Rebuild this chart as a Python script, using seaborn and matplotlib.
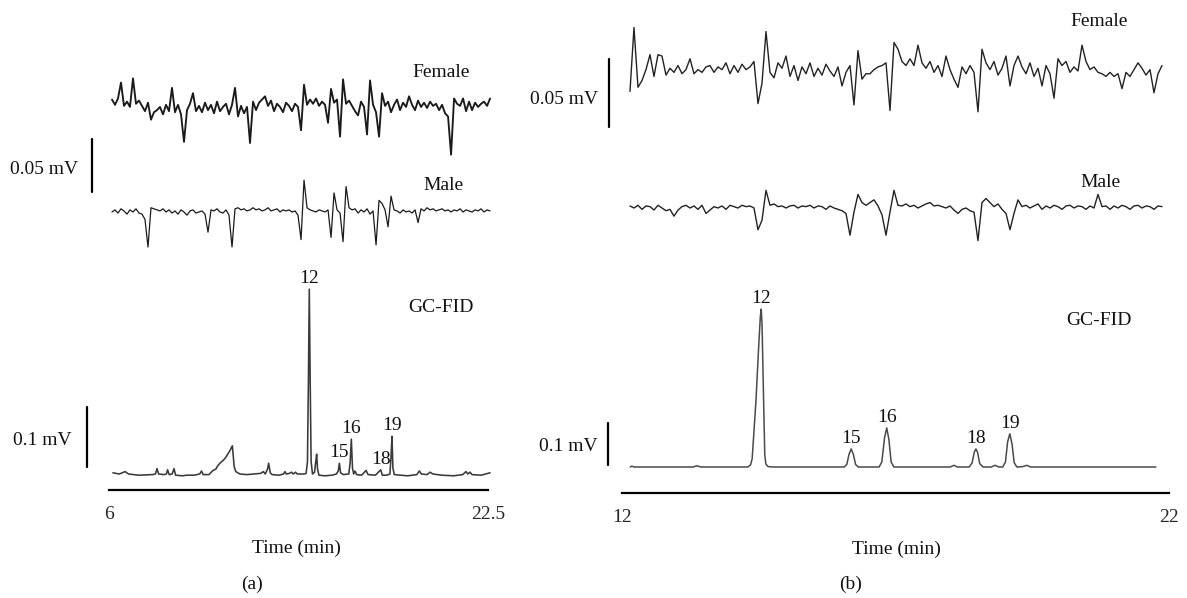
import numpy as np
import pandas as pd
import matplotlib
matplotlib.use("Agg")
import matplotlib.pyplot as plt
import seaborn as sns

# ---------------- data (a) : 6 - 22.5 min ----------------
a_ead_time = np.linspace(6.13, 22.59, 127)          # sample times (min)
a_female_uv = [8, 3, 9, 24, 2, 6, 1, 28, 4, 7,
               2, -3, 5, -11, -4, -2, 1, -6, 3, -3,
               19, -4, 3, -6, -32, -2, 4, 14, -3, 2,
               -4, 5, -2, 3, -5, 6, -3, 1, 4, -6,
               3, 19, -8, 2, -5, 1, -33, 6, -2, 5,
               8, 11, 2, 7, -3, 4, 1, -4, 5, 2,
               -3, 4, 1, -21, 22, 3, 8, 4, 9, 2,
               6, 3, -14, 18, 5, 8, -27, 27, 4, 7,
               2, -3, -7, 6, 1, -25, 26, 3, -4, -27,
               14, 2, 6, -4, 3, 8, -2, 5, 1, 11,
               3, -2, 7, 1, 5, 0, 6, 2, 4, -2,
               3, -5, -8, -44, 9, 4, 2, 9, -3, 6,
               -2, 5, 1, 4, 6, 2, 9]
a_male_uv = [0, 2, -1, 3, 1, -2, 2, 0, 3, -1,
             -2, -7, -33, 4, 3, 2, 1, 3, 0, 2,
             -1, 1, -2, 2, 0, -3, 1, 2, -1, 0,
             1, -2, -19, 2, 1, 3, 0, -1, 2, -3,
             -33, 3, 4, 2, 3, 1, 2, 4, 2, 3,
             1, 2, 4, 1, 2, 3, 0, 2, 1, 2,
             0, 1, -3, -26, 30, 4, 2, 1, 0, 2,
             1, 0, 2, -24, 18, 2, -1, -28, 24, 4,
             2, 3, -1, 2, 0, 3, -2, 1, -31, 11,
             8, 2, -14, 15, 2, 1, -1, 2, 0, 1,
             -1, 2, -10, 3, 1, 4, 2, 3, 1, 2,
             3, 1, 2, 0, 2, 1, 3, 0, 2, 1,
             0, 2, 1, 3, 0, 2, 1]
a_fid_time = [6.17, 6.45, 6.70, 6.85, 7.3, 7.9, 8.02, 8.09, 8.16, 8.40, 8.50, 8.55, 8.62,
              8.75, 8.83, 8.90, 9.2, 9.38, 9.7, 9.95, 10.03, 10.10, 10.35, 10.53, 10.65,
              10.72, 10.83, 10.95, 11.05, 11.12, 11.25, 11.37, 11.45, 11.52, 11.7, 12.0,
              12.3, 12.6, 12.72, 12.80, 12.90, 12.95, 13.02, 13.1, 13.4, 13.6, 13.66, 13.72,
              13.85, 13.95, 14.02, 14.12, 14.2, 14.5, 14.58, 14.64, 14.68, 14.72, 14.76,
              14.80, 14.86, 14.95, 15.00, 15.04, 15.08, 15.14, 15.4, 15.7, 15.9, 15.98,
              16.03, 16.08, 16.2, 16.44, 16.50, 16.55, 16.60, 16.65, 16.71, 16.78, 17.0,
              17.19, 17.28, 17.6, 17.83, 17.9, 18.1, 18.23, 18.28, 18.32, 18.36, 18.42,
              18.7, 19.0, 19.4, 19.51, 19.6, 19.85, 19.98, 20.1, 20.5, 21.0, 21.4, 21.54,
              21.62, 21.72, 21.8, 22.2, 22.59]
a_fid_mv = [0.002, 0.0, 0.004, 0.0, -0.002, -0.001, 0.0, 0.009, 0.0, -0.001, 0.0, 0.007, -0.001,
            0.0, 0.009, -0.002, -0.003, -0.002, -0.002, 0.0, 0.005, -0.001, -0.001, 0.006, 0.008,
            0.013, 0.018, 0.022, 0.026, 0.030, 0.038, 0.047, 0.012, 0.004, 0.0, -0.001,
            0.0, 0.001, 0.004, 0.0, 0.008, 0.018, 0.002, -0.001, -0.002, 0.0, 0.004, 0.0,
            0.001, 0.003, 0.0, 0.003, 0.0, 0.0, 0.001, 0.02, 0.15, 0.308, 0.15,
            0.02, 0.0, 0.003, 0.02, 0.033, 0.008, -0.002, -0.003, -0.002, 0.0, 0.005,
            0.018, 0.002, -0.001, 0.0, 0.02, 0.058, 0.01, 0.0, 0.005, -0.001, -0.002,
            0.006, -0.001, -0.002, 0.007, -0.002, -0.002, 0.0, 0.03, 0.063, 0.01, -0.001,
            -0.002, -0.003, -0.001, 0.005, 0.0, -0.001, 0.003, 0.0, -0.002, -0.003, -0.001, 0.004,
            0.0, 0.003, -0.001, -0.002, 0.002]
a_peak_names = ["12", "15", "16", "18", "19"]
a_peak_rt = [14.72, 16.03, 16.55, 17.83, 18.32]
a_peak_mv = [0.308, 0.018, 0.058, 0.007, 0.063]
a_ticks = [6, 22.5]
a_tick_labels = ["6", "22.5"]

# ---------------- data (b) : 12 - 22 min ----------------
b_ead_time = np.linspace(12.146, 21.872, 134)
b_female_uv = [-15, 32, -12, -7, 1, 12, -4, 12, 11, -3,
               2, -1, 4, -2, 1, 9, -2, 1, -1, 3,
               4, -1, 3, 1, 6, -2, 4, -1, 5, 1,
               3, 7, -24, -9, 29, -1, -5, 6, 2, 11,
               -4, 4, -7, 3, -2, 6, -4, 2, -3, 5,
               0, -4, 3, -11, -1, 4, -25, 15, -6, -2,
               -2, 1, 3, 4, 6, -29, 21, 16, 7, 4,
               9, 4, 19, 6, 2, 7, -1, 4, -4, 11,
               1, -6, -12, 3, -2, 4, -1, -30, 16, 6,
               1, 7, -3, 2, 11, -11, 4, 11, 3, -2,
               6, -4, 2, -11, 4, -2, -20, 9, 4, 7,
               -1, 3, 0, 19, 7, 1, 3, -1, -2, -4,
               -1, -4, -2, -13, -1, -4, 1, 6, 2, -3,
               1, -16, -2, 4]
b_male_uv = [1.5, 0, 2, -1, 1.5, 1, -1.5, 2, 0, -2,
             -1, -6, -1.5, 1, 2, 0, 1.5, -1, 2, -4,
             -1.5, 1, 0, 1.5, -1, 2, 1, 0, 2, 1,
             1.5, 0, -16, -9, 13, 2, 3, 1, 1.5, 0,
             1.5, 2, 0, 1.5, 1, 2, 0, 1.5, 1, -1,
             1.5, 0, -1, -2, -4, -20, -3, 10, 4, 2,
             4, 6, 1.5, -5, -20, -3, 13, 2, 1.5, 3,
             1, 2, 0, 1.5, 3, 4, 1.5, 2, 1, 0,
             1.5, -1.5, -4, -1, 0, -2, -3, -24, 4, 7,
             4, 1, 3, -1, -4, -16, -4, 6, 1, 2,
             0, 1.5, 3, -1, 1.5, 0, 2, 1, -1, 1.5,
             2, 0, 1.5, 1, -1, 1.5, 0, 10, 1, 1.5,
             -1, 1.5, 0, 2, 1, -1, 1.5, 2, 0, 1.5,
             1, -1, 1.5, 1]
b_fid_time = [12.15, 12.18, 12.22, 13.30, 13.37, 13.44, 14.30, 14.35, 14.38, 14.45, 14.50,
              14.53, 14.545, 14.56, 14.59, 14.61, 14.63, 14.67, 14.75, 16.06, 16.11, 16.15,
              16.19, 16.23, 16.27, 16.32, 16.70, 16.75, 16.80, 16.84, 16.88, 16.92, 16.97,
              18.0, 18.07, 18.13, 18.35, 18.40, 18.44, 18.47, 18.50, 18.54, 18.60, 18.75,
              18.82, 18.89, 18.96, 19.01, 19.05, 19.09, 19.13, 19.17, 19.22, 19.33, 19.40,
              19.47, 21.76]
b_fid_mv = [0.0, 0.002, 0.0, 0.0, 0.003, 0.0, 0.0, 0.005, 0.02, 0.16, 0.29,
            0.36, 0.376, 0.34, 0.15, 0.03, 0.007, 0.001, 0.0, 0.0, 0.006, 0.030,
            0.043, 0.030, 0.006, 0.0, 0.0, 0.012, 0.070, 0.093, 0.065, 0.012, 0.0,
            0.0, 0.004, 0.0, 0.0, 0.010, 0.035, 0.043, 0.035, 0.008, 0.0, 0.0,
            0.004, 0.0, 0.0, 0.012, 0.060, 0.079, 0.055, 0.010, 0.0, 0.001, 0.004,
            0.0, 0.0]
b_peak_names = ["12", "15", "16", "18", "19"]
b_peak_rt = [14.545, 16.19, 16.84, 18.47, 19.09]
b_peak_mv = [0.376, 0.043, 0.093, 0.043, 0.079]
b_ticks = [12, 22]
b_tick_labels = ["12", "22"]

# ---------------- figure ----------------
sns.set_theme(style="white")
plt.rcParams["font.family"] = ["Liberation Serif", "DejaVu Serif"]
plt.rcParams["text.color"] = "#111111"
FS = 14

W, H = 1187, 598
fig = plt.figure(figsize=(W / 100, H / 100), dpi=100)
fig.patch.set_facecolor("white")


def trace_axes(x0, x1, xlim, base_px, px_per_unit, top_px, bot_px):
    ax = fig.add_axes([x0 / W, 1 - bot_px / H, (x1 - x0) / W, (bot_px - top_px) / H])
    ax.set_xlim(*xlim)
    ax.set_ylim(-(bot_px - base_px) / px_per_unit, (base_px - top_px) / px_per_unit)
    ax.set_facecolor("none")
    for s in ax.spines.values():
        s.set_visible(False)
    ax.set_xticks([])
    ax.set_yticks([])
    return ax


def draw(ax, t, v, color, lw):
    df = pd.DataFrame({"t": t, "v": v})
    sns.lineplot(data=df, x="t", y="v", ax=ax, color=color, linewidth=lw,
                 estimator=None, sort=False, legend=False)
    ax.set_xlabel("")
    ax.set_ylabel("")
    for ln in ax.lines:
        ln.set_clip_on(False)
        ln.set_solid_joinstyle("round")


def ftext(x, y, s, ha="center"):
    fig.text(x / W, 1 - y / H, s, ha=ha, va="baseline", fontsize=FS)


def time_axis(ax, ticks, labels):
    ax.spines["bottom"].set_visible(True)
    ax.spines["bottom"].set_color("black")
    ax.spines["bottom"].set_linewidth(1.6)
    ax.set_xticks(ticks)
    ax.set_xticklabels(labels, fontsize=FS)
    ax.tick_params(axis="x", length=0, pad=11.3)


def peak_labels(ax, names, rts, hs):
    for n, r, h in zip(names, rts, hs):
        ax.annotate(n, xy=(r, h), xytext=(0, 4.3), textcoords="offset points",
                    ha="center", va="baseline", fontsize=FS, annotation_clip=False)


# ---- panel (a)
axa_f = trace_axes(109, 488, (6, 22.5), 108, 1.06, 60, 170)
draw(axa_f, a_ead_time, a_female_uv, "#1a1a1a", 1.35)
axa_f.plot([5.26, 5.26], [-29, -79], color="black", lw=1.6, clip_on=False)

axa_m = trace_axes(109, 488, (6, 22.5), 212, 1.06, 170, 260)
draw(axa_m, a_ead_time, a_male_uv, "#1a1a1a", 0.9)

axa_g = trace_axes(109, 488, (6, 22.5), 474, 600, 260, 490)
draw(axa_g, a_fid_time, a_fid_mv, "#3a3a3a", 1.15)
axa_g.plot([5.04, 5.04], [0.012, 0.112], color="black", lw=1.6, clip_on=False)
time_axis(axa_g, a_ticks, a_tick_labels)
peak_labels(axa_g, a_peak_names, a_peak_rt, a_peak_mv)

ftext(441, 77, "Female")
ftext(443, 190, "Male")
ftext(441, 312, "GC-FID")
ftext(78, 174, "0.05 mV", ha="right")
ftext(72, 445, "0.1 mV", ha="right")
ftext(296, 553, "Time (min)")
ftext(252, 589, "(a)")

# ---- panel (b)
axb_f = trace_axes(622, 1169, (12, 22), 71, 1.36, 10, 150)
draw(axb_f, b_ead_time, b_female_uv, "#222222", 1.0)
axb_f.plot([11.76, 11.76], [9, -41], color="black", lw=1.6, clip_on=False)

axb_m = trace_axes(622, 1169, (12, 22), 208, 1.36, 150, 260)
draw(axb_m, b_ead_time, b_male_uv, "#222222", 1.0)

axb_g = trace_axes(622, 1169, (12, 22), 467, 420, 260, 493)
draw(axb_g, b_fid_time, b_fid_mv, "#4a4a4a", 1.1)
axb_g.plot([11.74, 11.74], [0.005, 0.105], color="black", lw=1.6, clip_on=False)
time_axis(axb_g, b_ticks, b_tick_labels)
peak_labels(axb_g, b_peak_names, b_peak_rt, b_peak_mv)

ftext(1099, 26, "Female")
ftext(1100, 187, "Male")
ftext(1099, 325, "GC-FID")
ftext(598, 104, "0.05 mV", ha="right")
ftext(598, 451, "0.1 mV", ha="right")
ftext(896, 554, "Time (min)")
ftext(851, 589, "(b)")

fig.savefig("out.png", dpi=100, facecolor="white")
